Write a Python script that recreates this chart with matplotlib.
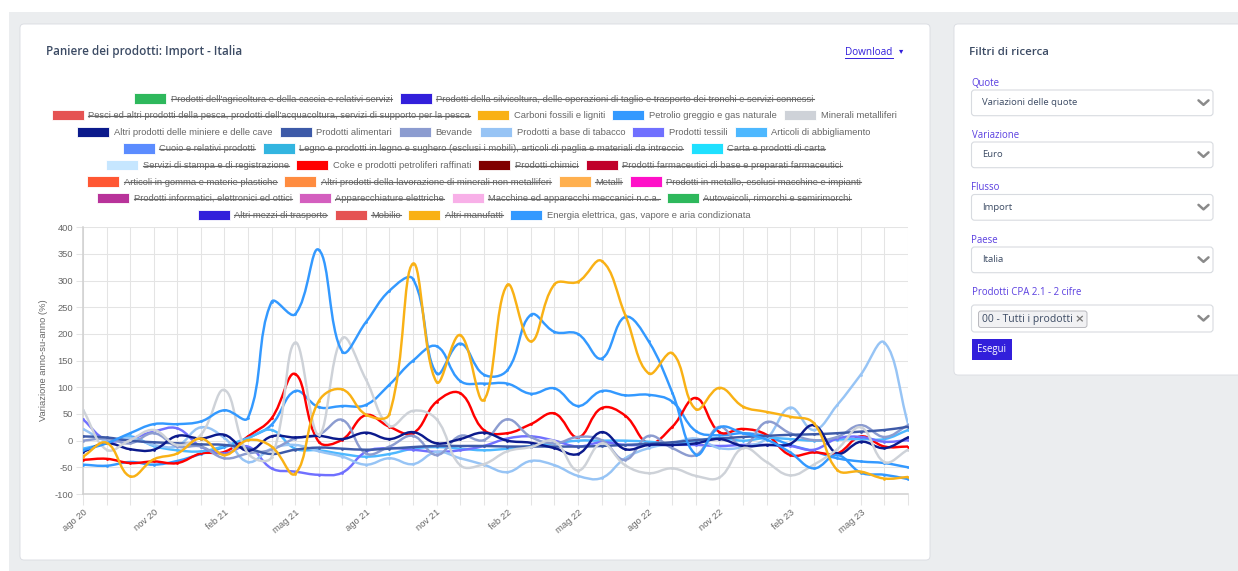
import matplotlib
matplotlib.use('Agg')
import matplotlib.pyplot as plt
from matplotlib.patches import Rectangle, FancyBboxPatch, PathPatch
from matplotlib.path import Path
import numpy as np

# ---------------- data ----------------
months = ['ago 20', 'set 20', 'ott 20', 'nov 20', 'dic 20', 'gen 21', 'feb 21', 'mar 21',
          'apr 21', 'mag 21', 'giu 21', 'lug 21', 'ago 21', 'set 21', 'ott 21', 'nov 21',
          'dic 21', 'gen 22', 'feb 22', 'mar 22', 'apr 22', 'mag 22', 'giu 22', 'lug 22',
          'ago 22', 'set 22', 'ott 22', 'nov 22', 'dic 22', 'gen 23', 'feb 23', 'mar 23',
          'apr 23', 'mag 23', 'giu 23', 'lug 23']

carboni = [-30, -4, -67, -35, -24, 4, -27, 1, -11, -62, 74, 96, 49, 50, 332, 110, 198, 76,
           292, 186, 293, 298, 337, 236, 126, 164, 59, 99, 64, 54, 45, 33, -55, -58, -71, -68]
petrolio = [-18, -5, 14, 31, 31, 36, 57, 43, 260, 237, 358, 167, 222, 281, 303, 126, 182, 124,
            132, 236, 204, 200, 154, 232, 186, 90, -26, 25, 14, 2, -22, -52, -27, -60, -64, -72]
minerali_met = [58, -17, 1, 20, -8, 11, 95, -24, -31, 184, 11, 192, 115, 28, 56, 40, -46, -44,
                -20, -12, -1, -56, -5, -46, -61, -52, -66, -69, -14, -40, -65, -45, -16, 25, -40, -17]
miniere = [-21, -5, -16, -17, 9, 4, 11, -19, 8, 6, 9, 3, 15, 3, 16, -5, 3, 15,
           0, -4, -14, -25, 16, -16, -8, -8, -5, 3, -10, -8, -6, 29, -24, -2, -14, 6]
alimentari = [8, 6, 0, -3, -5, -7, -8, -15, -25, -17, -13, -15, -17, -15, -12, -10, -10, -10,
              -11, -11, -11, -11, -10, -8, -6, -3, 1, 4, 7, 9, 11, 12, 14, 17, 20, 26]
bevande = [0, 4, -5, 14, -11, -11, -33, -24, -17, 4, 11, 39, -24, -11, 9, -27, 9, 1,
           40, 7, -5, 7, 1, -36, 9, -14, -27, 26, -11, 35, 14, 1, 7, 29, 7, 29]
tabacco = [22, 0, 5, -8, -10, 25, 5, -40, -15, -8, -20, -30, -45, -33, -44, -21, -33, -45,
           -59, -38, -46, -66, -70, -33, -14, -5, 4, -14, -12, 4, 62, 20, 67, 124, 184, 32]
tessili = [40, 1, 4, 17, 23, -11, -24, -11, -52, -58, -64, -60, -21, -14, -17, -21, -18, -10,
           4, 8, 0, -11, -3, -8, -8, -8, -8, -10, -8, -8, -10, -17, 4, 7, -2, 1]
abbigliamento = [-15, -5, 8, -10, -18, -20, -10, 5, 20, -15, -18, -25, -30, -25, -15, -12, -15, -18,
                 -15, -10, -5, 0, 0, 0, -2, -5, 0, 5, 0, 5, 3, 0, 2, 3, 3, 20]
coke = [-36, -34, -42, -39, -42, -24, -21, 8, 42, 125, -2, 2, 48, 26, 14, 73, 89, 20,
        14, 31, 51, 6, 61, 47, -5, 26, 80, 16, 22, 11, -27, -22, -24, 8, -11, -11]
energia = [-45, -47, -40, -45, -38, -25, -12, 5, 30, 93, 63, 65, 67, 105, 150, 177, 112, 107,
           107, 88, 98, 65, 93, 85, 86, 73, 18, 10, 14, 8, -8, -20, -33, -39, -42, -50]

labels = [
    "Prodotti dell'agricoltura e della caccia e relativi servizi",
    "Prodotti della silvicoltura, delle operazioni di taglio e trasporto dei tronchi e servizi connessi",
    "Pesci ed altri prodotti della pesca, prodotti dell'acquacoltura, servizi di supporto per la pesca",
    "Carboni fossili e ligniti",
    "Petrolio greggio e gas naturale",
    "Minerali metalliferi",
    "Altri prodotti delle miniere e delle cave",
    "Prodotti alimentari",
    "Bevande",
    "Prodotti a base di tabacco",
    "Prodotti tessili",
    "Articoli di abbigliamento",
    "Cuoio e relativi prodotti",
    "Legno e prodotti in legno e sughero (esclusi i mobili), articoli di paglia e materiali da intreccio",
    "Carta e prodotti di carta",
    "Servizi di stampa e di registrazione",
    "Coke e prodotti petroliferi raffinati",
    "Prodotti chimici",
    "Prodotti farmaceutici di base e preparati farmaceutici",
    "Articoli in gomma e materie plastiche",
    "Altri prodotti della lavorazione di minerali non metalliferi",
    "Metalli",
    "Prodotti in metallo, esclusi macchine e impianti",
    "Prodotti informatici, elettronici ed ottici",
    "Apparecchiature elettriche",
    "Macchine ed apparecchi meccanici n.c.a.",
    "Autoveicoli, rimorchi e semirimorchi",
    "Altri mezzi di trasporto",
    "Mobilio",
    "Altri manufatti",
    "Energia elettrica, gas, vapore e aria condizionata",
]
colors = ['#2eb85c', '#321fdb', '#e55353', '#f9b115', '#3399ff', '#ced2d8', '#0b1a8c', '#3d5aa8',
          '#8c9cd0', '#97c4f5', '#7070ff', '#4db8ff', '#5b8cff', '#33b5e0', '#1fe0ff', '#c6e6ff',
          '#ff0000', '#800000', '#c0002a', '#ff5733', '#ff8c40', '#ffb04f', '#ff10c8', '#b8339a',
          '#d45fbf', '#f8b0e8', '#2eb85c', '#321fdb', '#e55353', '#f9b115', '#3399ff']
series = {3: carboni, 4: petrolio, 5: minerali_met, 6: miniere, 7: alimentari, 8: bevande,
          9: tabacco, 10: tessili, 11: abbigliamento, 16: coke, 30: energia}
legend_rows = [2, 4, 6, 3, 4, 4, 4, 4]

y_ticks = list(range(-100, 401, 50))

# ---------------- layout helpers ----------------
W, H, DPI = 1238, 571, 100
def pt(px):
    return px * 72.0 / DPI

LEG_FONT = 'Liberation Sans'
UI_FONT = ['Open Sans', 'DejaVu Sans']

fig = plt.figure(figsize=(W / DPI, H / DPI), dpi=DPI)
fig.patch.set_facecolor('white')
bg = fig.add_axes([0, 0, 1, 1])
bg.set_xlim(0, W)
bg.set_ylim(H, 0)
bg.axis('off')
bg.set_zorder(0)

bg.add_patch(Rectangle((9, 12), W - 9, H - 12, facecolor='#ebedef', edgecolor='none'))
bg.add_patch(FancyBboxPatch((20, 24), 910, 536, boxstyle='round,pad=0,rounding_size=4',
                            facecolor='white', edgecolor='#d8dbe0', lw=0.6))
bg.add_patch(FancyBboxPatch((954, 24), 320, 351, boxstyle='round,pad=0,rounding_size=4',
                            facecolor='white', edgecolor='#d8dbe0', lw=0.6))

# title + download
bg.text(46, 52, 'Paniere dei prodotti: Import - Italia', fontsize=pt(11.6), color='#3c4b64',
        va='center', ha='left', family=UI_FONT, fontweight='semibold')
bg.text(845, 52.5, 'Download', fontsize=pt(10), color='#321fdb', va='center', ha='left', family=UI_FONT)
bg.plot([845, 893], [58, 58], color='#321fdb', lw=0.7)
bg.text(899, 50.5, '\u25BE', fontsize=pt(8.5), color='#321fdb', va='center', ha='left', family=['DejaVu Sans'])

# ---------------- legend ----------------
r = fig.canvas.get_renderer()
fs = pt(9.4)
box_w, box_h, gap_txt, gap_item = 32, 10.5, 4.5, 7.4
cx = 474
row_y0, row_dy = 98.6, 16.6
idx = 0
for ri, n in enumerate(legend_rows):
    items = list(range(idx, idx + n))
    idx += n
    texts, widths = [], []
    for k in items:
        t = bg.text(0, 0, labels[k], fontsize=fs, family=LEG_FONT, color='#666666',
                    va='center', ha='left')
        texts.append(t)
        widths.append(t.get_window_extent(r).width)
    total = sum(box_w + gap_txt + w for w in widths) + gap_item * (n - 1)
    x = cx - total / 2
    y = row_y0 + ri * row_dy
    for k, t, w in zip(items, texts, widths):
        bg.add_patch(Rectangle((x, y - box_h / 2), box_w, box_h, facecolor=colors[k],
                               edgecolor='white', lw=0.6))
        tx = x + box_w + gap_txt
        t.set_position((tx, y + 0.5))
        if k not in series:
            bg.plot([tx, tx + w], [y + 0.6, y + 0.6], color='#666666', lw=0.8)
        x = tx + w + gap_item

# ---------------- chart ----------------
ax_l, ax_r, ax_t, ax_b = 83, 908, 227.3, 494
ax = fig.add_axes([ax_l / W, 1 - ax_b / H, (ax_r - ax_l) / W, (ax_b - ax_t) / H])
ax.set_zorder(2)
ax.set_facecolor('none')
n_m = len(months)
ax.set_xlim(0, n_m - 1)
ax.set_ylim(y_ticks[0], y_ticks[-1])
sx = (ax_r - ax_l) / (n_m - 1)
sy = (ax_b - ax_t) / (y_ticks[-1] - y_ticks[0])


def chart_bezier(xs, ys, t=0.4):
    X = np.asarray(xs, float) * sx
    Y = np.asarray(ys, float) * sy
    n = len(X)
    cp_prev, cp_next = [], []
    for i in range(n):
        a = i - 1 if i > 0 else i
        b = i + 1 if i < n - 1 else i
        d01 = np.hypot(X[i] - X[a], Y[i] - Y[a])
        d12 = np.hypot(X[b] - X[i], Y[b] - Y[i])
        tot = d01 + d12
        s01 = d01 / tot if tot else 0
        s12 = d12 / tot if tot else 0
        fa, fb = t * s01, t * s12
        cp_prev.append((X[i] - fa * (X[b] - X[a]), Y[i] - fa * (Y[b] - Y[a])))
        cp_next.append((X[i] + fb * (X[b] - X[a]), Y[i] + fb * (Y[b] - Y[a])))
    verts = [(X[0], Y[0])]
    codes = [Path.MOVETO]
    for i in range(1, n):
        verts += [cp_next[i - 1], cp_prev[i], (X[i], Y[i])]
        codes += [Path.CURVE4] * 3
    v = np.array(verts)
    v[:, 0] /= sx
    v[:, 1] /= sy
    return Path(v, codes)


xs = np.arange(n_m)
for k, vals in series.items():
    z = 100 - k
    ax.add_patch(PathPatch(chart_bezier(xs, vals), fill=False, edgecolor=colors[k], lw=1.75,
                           zorder=z, joinstyle='round', capstyle='round'))
    ax.plot(xs, vals, 'o', ms=2.0, color=colors[k], zorder=z, mew=0)

grid_c = '#e4e4e4'
ax.set_xticks(xs)
ax.set_xticklabels([m if i % 3 == 0 else '' for i, m in enumerate(months)], rotation=40,
                   ha='right', va='top', rotation_mode='anchor', fontsize=fs, family=LEG_FONT,
                   color='#666666')
ax.set_yticks(y_ticks)
ax.set_yticklabels([str(v) for v in y_ticks], fontsize=fs, family=LEG_FONT, color='#666666')
ax.tick_params(axis='x', length=8, width=0.75, color=grid_c, pad=2)
ax.tick_params(axis='y', length=5, width=0.75, color=grid_c, pad=2)
ax.grid(True, color=grid_c, lw=0.75)
ax.set_axisbelow(True)
for s in ['top', 'right']:
    ax.spines[s].set_visible(False)
for s in ['left', 'bottom']:
    ax.spines[s].set_color('#d0d0d0')
    ax.spines[s].set_linewidth(1.1)

bg.text(43.5, 360.5, 'Variazione anno-su-anno (%)', fontsize=fs, family=LEG_FONT, color='#666666',
        rotation=90, ha='center', va='center')

# ---------------- filter panel ----------------
bg.text(969, 52.3, 'Filtri di ricerca', fontsize=pt(11.5), color='#3c4b64', va='center', ha='left',
        family=UI_FONT, fontweight='semibold')
lab_c = '#5a3fe0'
fields = [('Quote', 83.5, 90, 25.7, 'Variazioni delle quote'),
          ('Variazione', 135, 142, 25.7, 'Euro'),
          ('Flusso', 188, 194.5, 25.7, 'Import'),
          ('Paese', 240.5, 247, 25.7, 'Italia'),
          ('Prodotti CPA 2.1 - 2 cifre', 292.5, 305, 27, None)]
for lab, ly, by, bh, val in fields:
    bg.text(971.5, ly, lab, fontsize=pt(9.7), color=lab_c, va='center', ha='left', family=UI_FONT)
    bg.add_patch(FancyBboxPatch((971.5, by), 241.5, bh, boxstyle='round,pad=0,rounding_size=3',
                                facecolor='white', edgecolor='#d8dbe0', lw=0.8))
    cy = by + bh / 2
    bg.plot([1198.5, 1203.5, 1208.5], [cy - 2.5, cy + 2, cy - 2.5], color='#8a8a8a', lw=1.8,
            solid_capstyle='round', solid_joinstyle='round')
    if val:
        bg.text(982, cy, val, fontsize=pt(9.5), color='#3c4b64', va='center', ha='left', family=UI_FONT)

bg.add_patch(FancyBboxPatch((978.5, 311), 108.5, 16.5, boxstyle='round,pad=0,rounding_size=2.5',
                            facecolor='#f1f1f3', edgecolor='#b9b9be', lw=0.7))
bg.text(981.5, 319.3, '00 - Tutti i prodotti', fontsize=pt(10.4), color='#3c4b64', va='center', ha='left',
        family=UI_FONT)
bg.text(1079.5, 319, '\u00D7', fontsize=pt(11.5), color='#777777', va='center', ha='center',
        family=['DejaVu Sans'], fontweight='bold')

bg.add_patch(Rectangle((972, 338.5), 40, 21.5, facecolor='#321fdb', edgecolor='none'))
bg.text(992, 349.5, 'Esegui', fontsize=pt(9.6), color='white', va='center', ha='center', family=UI_FONT)

fig.savefig('out.png', dpi=DPI, facecolor='white')
